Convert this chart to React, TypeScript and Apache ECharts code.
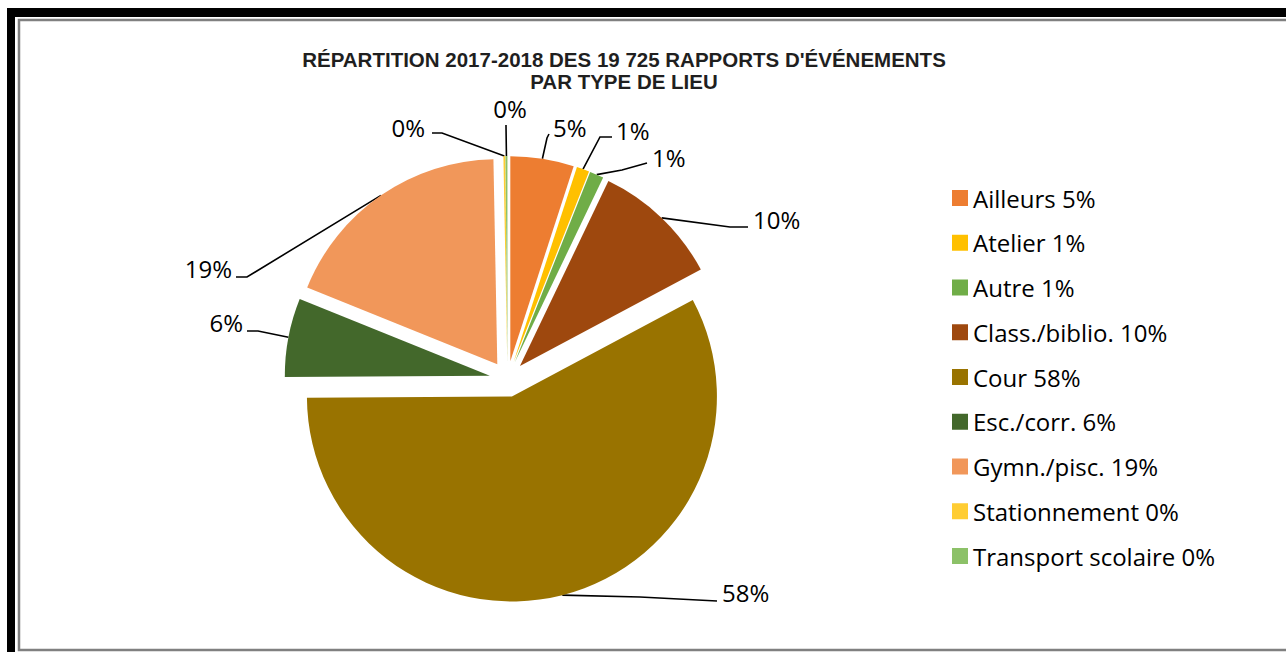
import React, { useEffect, useRef } from "react";
import * as echarts from "echarts";

const TITLE_LINES = ["RÉPARTITION 2017-2018 DES 19 725 RAPPORTS D'ÉVÉNEMENTS", "PAR TYPE DE LIEU"];
const CATEGORIES = [
  "Ailleurs",
  "Atelier",
  "Autre",
  "Class./biblio.",
  "Cour",
  "Esc./corr.",
  "Gymn./pisc.",
  "Stationnement",
  "Transport scolaire",
];
// share of the 19 725 reports, in percent
const VALUES = [5.0, 1.0, 1.1, 10.1, 57.7, 6.2, 18.6, 0.15, 0.15];
const COLORS = [
  "#ED7D31",
  "#FFC000",
  "#70AD47",
  "#9E480E",
  "#997300",
  "#43682B",
  "#F1975A",
  "#FFCD33",
  "#8CC168",
];

const EXPLODE = 18;

// label placement (text anchor, alignment, bend and end of leader line)
const LABEL_LAYOUT = [
  { x: 553, y: 127, align: "left", bend: [547, 138], end: [549, 134] },
  { x: 616, y: 130, align: "left", bend: [600, 137], end: [612, 137] },
  { x: 652, y: 157, align: "left", bend: [622, 170], end: [647, 163] },
  { x: 753, y: 219, align: "left", bend: [730, 227], end: [748, 227] },
  { x: 722, y: 592, align: "left", bend: [640, 597], end: [717, 601] },
  { x: 243, y: 322, align: "right", bend: [258, 331], end: [247, 331] },
  { x: 232, y: 268, align: "right", bend: [247, 277], end: [236, 277] },
  { x: 425, y: 127, align: "right", bend: [442, 133], end: [432, 133] },
  { x: 510, y: 108, align: "center", bend: [506, 126], end: [506, 125] },
];

export default function App() {
  const ref = useRef<HTMLDivElement>(null);
  useEffect(() => {
    const chart = echarts.init(ref.current!, null, { renderer: "svg" });
    const total = VALUES.reduce((a, b) => a + b, 0);
    const pctOf = (name: string) => {
      const i = CATEGORIES.indexOf(name);
      return Math.round((VALUES[i] / total) * 100);
    };
    // offset each exploded slice moves by (along its mid angle)
    const sliceOffset = (i: number) => {
      let before = 0;
      for (let k = 0; k < i; k++) before += VALUES[k];
      const mid = ((before + VALUES[i] / 2) / total) * Math.PI * 2;
      return [Math.sin(mid) * EXPLODE, -Math.cos(mid) * EXPLODE];
    };
    chart.setOption({
      animation: false,
      backgroundColor: "#ffffff",
      title: {
        text: TITLE_LINES.join("\n"),
        left: 624,
        top: 48,
        padding: 0,
        textAlign: "center",
        textStyle: {
          fontFamily: "Liberation Sans",
          fontWeight: "bold",
          fontSize: 20.5,
          lineHeight: 22,
          color: "#1f1f1f",
        },
      },
      legend: {
        orient: "vertical",
        left: 952,
        top: 186,
        padding: 0,
        icon: "rect",
        itemWidth: 16,
        itemHeight: 16,
        itemGap: 20.75,
        selectedMode: false,
        data: CATEGORIES,
        formatter: (name: string) => `${name} ${pctOf(name)}%`,
        textStyle: {
          fontFamily: "Open Sans",
          fontSize: 24,
          lineHeight: 24,
          color: "#000000",
        },
      },
      graphic: [
        { type: "rect", shape: { x: 7, y: 8, width: 1290, height: 9 }, style: { fill: "#000" }, silent: true },
        { type: "rect", shape: { x: 7, y: 8, width: 8, height: 650 }, style: { fill: "#000" }, silent: true },
        {
          type: "polyline",
          shape: { points: [[1290, 20], [19, 20], [19, 650], [1290, 650]] },
          style: { stroke: "#808080", lineWidth: 2.5, fill: null },
          silent: true,
        },
      ],
      series: [
        {
          type: "pie",
          center: [507.5, 379],
          radius: 205,
          startAngle: 90,
          clockwise: true,
          selectedMode: "multiple",
          selectedOffset: EXPLODE,
          avoidLabelOverlap: false,
          emphasis: { disabled: true },
          data: CATEGORIES.map((name, i) => ({
            name,
            value: VALUES[i],
            selected: true,
            itemStyle: { color: COLORS[i] },
          })),
          label: {
            show: true,
            position: "outside",
            formatter: (p: any) => `${Math.round(p.percent)}%`,
            fontFamily: "Open Sans",
            fontSize: 24,
            color: "#000000",
          },
          labelLine: {
            show: true,
            length: 10,
            length2: 10,
            lineStyle: { color: "#000000", width: 1.6 },
          },
          labelLayout: (params: any) => {
            const i = params.dataIndex;
            const l = LABEL_LAYOUT[i];
            const [ox, oy] = sliceOffset(i);
            const r = params.labelRect;
            const curX =
              l.align === "left" ? r.x : l.align === "right" ? r.x + r.width : r.x + r.width / 2;
            const curY = r.y + r.height / 2;
            const start = params.labelLinePoints
              ? params.labelLinePoints[0]
              : [l.bend[0] - ox, l.bend[1] - oy];
            return {
              dx: l.x - ox - curX,
              dy: l.y - oy - curY,
              labelLinePoints: [
                start,
                [l.bend[0] - ox, l.bend[1] - oy],
                [l.end[0] - ox, l.end[1] - oy],
              ],
            };
          },
        },
      ],
    });
    return () => chart.dispose();
  }, []);
  return (
    <div
      ref={ref}
      style={{ position: "fixed", left: 0, top: 0, width: 1286, height: 652 }}
    />
  );
}
